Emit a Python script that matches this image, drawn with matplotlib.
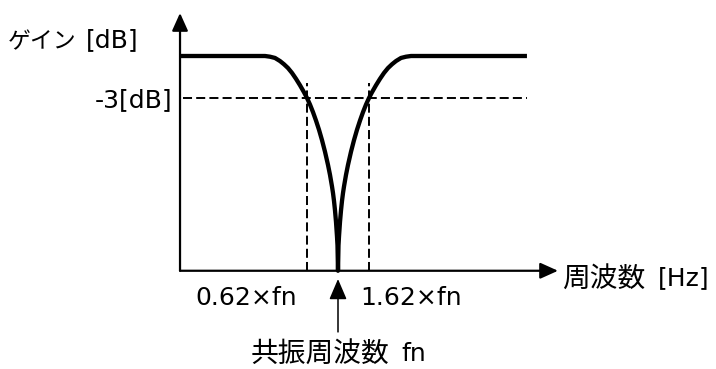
import numpy as np
import matplotlib
matplotlib.use('Agg')
import matplotlib.pyplot as plt

plt.rcParams['font.family'] = ['DejaVu Sans', 'Noto Sans CJK JP']
plt.rcParams['lines.scale_dashes'] = False

# ---- data: frequency ratio f/fn and gain in dB ----
freq_ratio = [0.088,
              0.3253, 0.3513, 0.3794, 0.4097, 0.4357, 0.4634, 0.4928, 0.5241,
              0.5573, 0.5927, 0.6207, 0.6500, 0.6807, 0.7128, 0.7466, 0.7818,
              0.8187, 0.8574, 0.8842, 0.9118, 0.9260, 0.9403, 0.9549, 0.9697,
              0.9847, 0.9923,
              1.0,
              1.0077, 1.0155, 1.0312, 1.0473, 1.0635, 1.0800, 1.0967, 1.1310,
              1.1663, 1.2214, 1.2791, 1.3395, 1.4029, 1.4691, 1.5385, 1.6111,
              1.6872, 1.7944, 1.9081, 2.0293, 2.1580, 2.2951, 2.4408, 2.6357,
              2.8466, 3.0741,
              18.3]
gain_db = [0,
           0, -0.05, -0.14, -0.36, -0.59, -0.86, -1.21, -1.63,
           -2.09, -2.59, -3.0, -3.47, -4.01, -4.61, -5.27, -6.01,
           -6.84, -7.78, -8.49, -9.32, -9.79, -10.35, -11.03, -11.85,
           -12.89, -13.53,
           -15.34,
           -13.53, -12.89, -11.85, -11.03, -10.35, -9.79, -9.32, -8.49,
           -7.78, -6.84, -6.01, -5.27, -4.61, -4.01, -3.47, -3.0,
           -2.59, -2.09, -1.63, -1.21, -0.86, -0.59, -0.36, -0.14,
           -0.05, 0,
           0]
cutoff_ratios = [0.62, 1.62]
level_3db = -3.0

# axis geometry (data units)
f_axis = 0.088
g_axis = -15.34
f_tip = 29.5
g_tip = 3.07
f_end = 18.3
g_dash_top = -1.93

fig = plt.figure(figsize=(7.16, 3.69), dpi=100)
ax = fig.add_axes([0, 0, 1, 1])
ax.set_xscale('log')
ax.set_xlim(np.exp(-338 / 65), np.exp(378 / 65))
ax.set_ylim(-313 / 14, 56 / 14)
ax.axis('off')

# dashed guide lines
ax.plot([0.092, f_end], [level_3db, level_3db], color='black', lw=1.4,
        dashes=(6.5, 3.0), zorder=2)
for c in cutoff_ratios:
    ax.plot([c, c], [g_axis, g_dash_top], color='black', lw=1.4,
            dashes=(6.5, 3.0), zorder=2)

# response curve
ax.plot(freq_ratio, gain_db, color='black', lw=3.1, solid_joinstyle='round',
        solid_capstyle='butt', zorder=3)

# axes with arrows
arrow_kw = dict(arrowstyle='-|>,head_length=0.6,head_width=0.27',
                color='black', lw=1.6, shrinkA=0, shrinkB=0,
                mutation_scale=18)
ax.annotate('', xy=(f_axis, g_tip), xytext=(f_axis, g_axis),
            arrowprops=arrow_kw, zorder=4)
ax.annotate('', xy=(f_tip, g_axis), xytext=(f_axis, g_axis),
            arrowprops=arrow_kw, zorder=4)

# fn pointer arrow
ax.annotate('', xy=(1.0, -15.93), xytext=(1.0, -19.71),
            arrowprops=dict(arrowstyle='-|>,head_length=0.7,head_width=0.3',
                            color='black', lw=1.1, shrinkA=0, shrinkB=0,
                            mutation_scale=18), zorder=4)

W, H = 716, 369
LAT = ['DejaVu Sans']
JP = ['Noto Sans CJK JP', 'DejaVu Sans']


def ftext(px, py, s, ha, size, family):
    fig.text(px / W, 1 - py / H, s, ha=ha, va='baseline', fontsize=size,
             family=family, color='black')


# y-axis label
ftext(8, 48.5, 'ゲイン', 'left', 16.5, JP)
ftext(86, 47, '[dB]', 'left', 18, LAT)
# -3 dB label
ftext(172, 107, '-3[dB]', 'right', 18, LAT)
# x-axis label
ftext(562, 286.5, '周波数', 'left', 20, JP)
ftext(658, 285, '[Hz]', 'left', 18, LAT)
# cutoff labels
ftext(246, 305, '0.62×fn', 'center', 18, LAT)
ftext(411, 305, '1.62×fn', 'center', 18, LAT)
# resonance label
ftext(251, 362, '共振周波数', 'left', 20, JP)
ftext(401, 361, 'fn', 'left', 18, LAT)

fig.savefig('out.png', dpi=100)
